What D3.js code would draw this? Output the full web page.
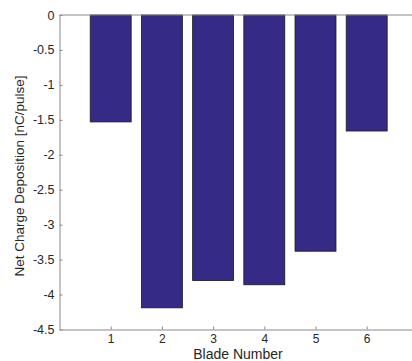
<!DOCTYPE html>
<html>
<head>
<meta charset="utf-8">
<script src="https://cdn.jsdelivr.net/npm/d3@7"></script>
<style>
  body { margin: 0; background: #fff; }
  svg { display: block; font-family: "Liberation Sans", Arial, sans-serif; }
</style>
</head>
<body>
<svg id="chart" width="412" height="361"></svg>
<script>
const blades = [1, 2, 3, 4, 5, 6]
const charge = [-1.53, -4.19, -3.80, -3.86, -3.38, -1.66]
const yTicks = [0, -0.5, -1, -1.5, -2, -2.5, -3, -3.5, -4, -4.5]

const svg = d3.select("#chart")

// plot box (right side runs past the picture edge)
const x = d3.scaleLinear().domain([0, 7]).range([59.5, 417.9])
const y = d3.scaleLinear().domain([-4.5, 0]).range([329.5, 15])
const barW = (x(1) - x(0)) * 0.8

// bars
svg.append("g").selectAll("rect")
  .data(blades)
  .enter()
  .append("rect")
  .attr("x", d => x(d) - barW / 2)
  .attr("y", y(0))
  .attr("width", barW)
  .attr("height", (d, i) => y(charge[i]) - y(0))
  .attr("fill", "#352a85")
  .attr("stroke", "#1a1a1a")
  .attr("stroke-width", 0.8)

// axes, ticks pointing inward, plain hyphen minus like matlab
const axisColor = "#8a8a8a"
const yAxis = svg.append("g")
  .attr("transform", "translate(" + x(0) + ",0)")
  .call(d3.axisRight(y).tickValues(yTicks).tickSize(3).tickSizeOuter(0).tickFormat(d => String(d)))
yAxis.select(".domain").attr("stroke", axisColor)
yAxis.selectAll(".tick line").attr("stroke", axisColor)
yAxis.selectAll(".tick text")
  .attr("x", -5)
  .attr("text-anchor", "end")
  .attr("fill", "#262626")
  .attr("font-size", 12.5)

const xAxis = svg.append("g")
  .attr("transform", "translate(0," + y(-4.5) + ")")
  .call(d3.axisTop(x).tickValues(blades).tickSize(3).tickSizeOuter(0).tickFormat(d => String(d)))
xAxis.select(".domain").attr("stroke", axisColor)
xAxis.selectAll(".tick line").attr("stroke", axisColor)
xAxis.selectAll(".tick text")
  .attr("y", 13.5)
  .attr("dy", "0")
  .attr("fill", "#262626")
  .attr("font-size", 12)

// top box edge
svg.append("line")
  .attr("x1", x(0)).attr("x2", x(7))
  .attr("y1", y(0)).attr("y2", y(0))
  .attr("stroke", axisColor)

// labels
svg.append("text")
  .attr("x", 238).attr("y", 359)
  .attr("text-anchor", "middle")
  .attr("fill", "#262626")
  .attr("font-size", 14)
  .text("Blade Number")

svg.append("text")
  .attr("transform", "translate(24,176) rotate(-90)")
  .attr("text-anchor", "middle")
  .attr("fill", "#262626")
  .attr("font-size", 13.5)
  .text("Net Charge Deposition [nC/pulse]")
</script>
</body>
</html>
